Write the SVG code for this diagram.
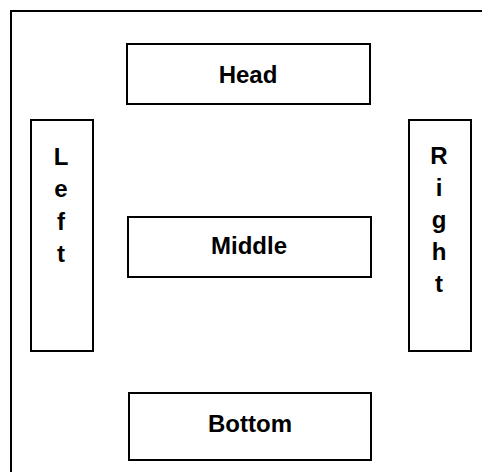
<svg xmlns="http://www.w3.org/2000/svg" width="482" height="472" viewBox="0 0 482 472">
<style>
.box{fill:#fff;stroke:#000;stroke-width:2}
.lbl{font-family:"Liberation Sans",Arial,sans-serif;font-weight:bold;font-size:24px;fill:#000;text-anchor:middle}
</style>
<rect width="482" height="472" fill="#fff"/>
<g id="frame"><path d="M11,472 V11 H482" fill="none" stroke="#000" stroke-width="2"/></g>
<g id="connectors"></g>
<g id="head"><rect class="box" x="127" y="44" width="243" height="60"/><text class="lbl" x="248" y="83">Head</text></g>
<g id="left"><rect class="box" x="31" y="120" width="62" height="231"/>
<text class="lbl" x="61" y="165">L</text><text class="lbl" x="61" y="197">e</text><text class="lbl" x="61" y="230">f</text><text class="lbl" x="61" y="262">t</text></g>
<g id="right"><rect class="box" x="409" y="120" width="62" height="231"/>
<text class="lbl" x="439" y="164">R</text><text class="lbl" x="439" y="196">i</text><text class="lbl" x="439" y="228">g</text><text class="lbl" x="439" y="260">h</text><text class="lbl" x="439" y="292">t</text></g>
<g id="middle"><rect class="box" x="128" y="217" width="243" height="60"/><text class="lbl" x="249" y="254">Middle</text></g>
<g id="bottom"><rect class="box" x="129" y="393" width="242" height="67"/><text class="lbl" x="250" y="432">Bottom</text></g>
</svg>
